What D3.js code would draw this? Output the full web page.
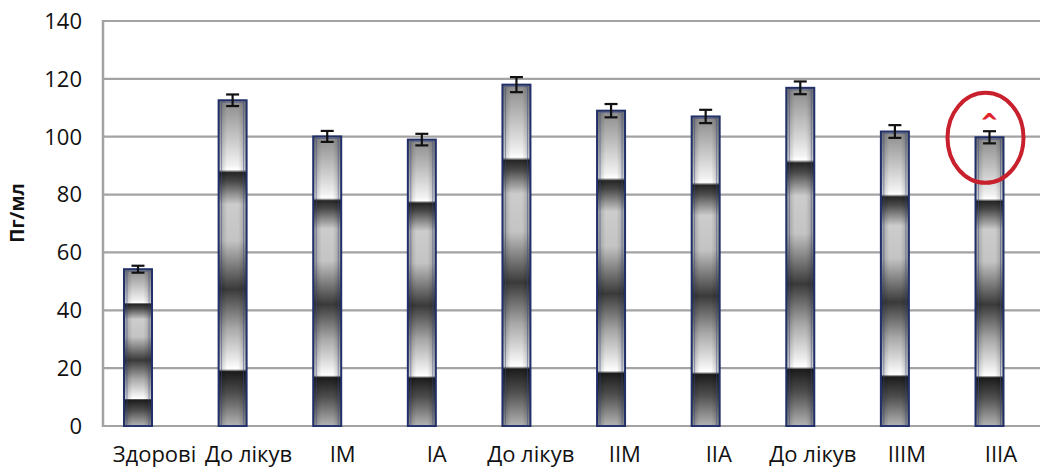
<!DOCTYPE html>
<html><head><meta charset="utf-8">
<script src="https://cdn.jsdelivr.net/npm/d3@7"></script>
<style>html,body{margin:0;padding:0;background:#fff}svg{display:block}</style>
</head><body>
<svg id="c" width="1040" height="470"></svg>
<script>
const categories = ["Здорові","До лікув","IM","IA","До лікув","IIM","IIA","До лікув","IIIM","IIIA"];
const values = [54.2, 112.6, 100.1, 99.0, 118.0, 109.0, 107.0, 116.9, 101.8, 99.8];
const errors = [1.2, 2.0, 1.9, 2.0, 2.6, 2.3, 2.3, 2.2, 2.2, 2.1];
const yTicks = [0, 20, 40, 60, 80, 100, 120, 140];
const yTitle = "Пг/мл";
const markIndex = 9;
const markText = "^";

const svg = d3.select("#c");
const keys = categories.map((c,i)=>i);
const y = d3.scaleLinear().domain([0,140]).range([426,21]);
const xBar = d3.scalePoint().domain(keys).range([138, 989.5]);
const xLab = d3.scalePoint().domain(keys).range([154.5, 1001]);
const barW = 28;
const font = "'Open Sans', sans-serif";

// gradients
const defs = svg.append("defs");
const g1 = defs.append("linearGradient").attr("id","metal").attr("x1",0).attr("y1",0).attr("x2",0).attr("y2",1);
[[0,"#8a8a8a"],[0.2,"#f2f2f2"],[0.213,"#ffffff"],[0.222,"#262626"],[0.25,"#4a4a4a"],[0.32,"#cccccc"],[0.43,"#c4c4c4"],
 [0.58,"#3a3a3a"],[0.7,"#a8a8a8"],[0.81,"#f4f4f4"],[0.825,"#ffffff"],[0.833,"#1c1c1c"],[0.9,"#4e4e4e"],[1,"#b4b4b4"]]
 .forEach(s=>g1.append("stop").attr("offset",s[0]).attr("stop-color",s[1]));
const g2 = defs.append("linearGradient").attr("id","shade").attr("x1",0).attr("y1",0).attr("x2",1).attr("y2",0);
[[0,0.25],[0.3,0],[0.7,0],[1,0.25]].forEach(s=>g2.append("stop").attr("offset",s[0]).attr("stop-color","#000").attr("stop-opacity",s[1]));

// gridlines
svg.append("g").selectAll("line").data(yTicks).join("line")
  .attr("x1",103).attr("x2",1040).attr("y1",d=>y(d)).attr("y2",d=>y(d))
  .attr("stroke","#a3a3a3").attr("stroke-width",2.2);
svg.append("line").attr("x1",103).attr("x2",103).attr("y1",y(140)-1).attr("y2",y(0)+1)
  .attr("stroke","#a3a3a3").attr("stroke-width",2.5);

// y labels
svg.append("g").selectAll("text").data(yTicks).join("text")
  .attr("x",82).attr("y",d=>y(d)).attr("dy","0.36em").attr("text-anchor","end")
  .attr("font-family",font).attr("font-size",22).attr("fill","#111").text(d=>d);

// y title
svg.append("text").attr("transform","translate(24,213) rotate(-90)")
  .attr("text-anchor","middle").attr("font-family",font).attr("font-weight","bold")
  .attr("font-size",19).attr("fill","#111").text(yTitle);

// bars
const bars = svg.append("g").selectAll("g").data(keys).join("g");
bars.append("rect").attr("x",i=>xBar(i)-barW/2).attr("y",i=>y(values[i])).attr("width",barW)
  .attr("height",i=>y(0)-y(values[i])).attr("fill","url(#metal)");
bars.append("rect").attr("x",i=>xBar(i)-barW/2).attr("y",i=>y(values[i])).attr("width",barW)
  .attr("height",i=>y(0)-y(values[i])).attr("fill","url(#shade)");
bars.append("rect").attr("x",i=>xBar(i)-barW/2).attr("y",i=>y(values[i])).attr("width",barW)
  .attr("height",i=>y(0)-y(values[i])).attr("fill","none").attr("stroke","#22306a").attr("stroke-width",2);
bars.append("rect").attr("x",i=>xBar(i)-barW/2+3).attr("y",i=>y(values[i])+2).attr("width",barW-6)
  .attr("height",i=>y(0)-y(values[i])-2).attr("fill","none").attr("stroke","#3b4a8c").attr("stroke-width",0.8).attr("stroke-opacity",0.6);

// error bars
const eb = svg.append("g").attr("stroke","#111").attr("stroke-width",2.2);
keys.forEach(i=>{
  const cx = xBar(i), t = y(values[i]+errors[i]), b = y(values[i]-errors[i]);
  eb.append("line").attr("x1",cx).attr("x2",cx).attr("y1",t).attr("y2",b);
  eb.append("line").attr("x1",cx-6.5).attr("x2",cx+6.5).attr("y1",t).attr("y2",t);
  eb.append("line").attr("x1",cx-6.5).attr("x2",cx+6.5).attr("y1",b).attr("y2",b);
});

// category labels
svg.append("g").selectAll("text").data(keys).join("text")
  .attr("x",i=>xLab(i)).attr("y",462).attr("text-anchor","middle")
  .attr("font-family",font).attr("font-size",22).attr("fill","#111").text(i=>categories[i]);

// annotation
const mx = xBar(markIndex);
svg.append("ellipse").attr("cx",mx-4).attr("cy",y(values[markIndex])+0.5).attr("rx",38).attr("ry",45)
  .attr("fill","none").attr("stroke","#c8202c").attr("stroke-width",4);
svg.append("text").attr("x",mx).attr("y",y(values[markIndex]+errors[markIndex])-3)
  .attr("text-anchor","middle").attr("font-family","'DejaVu Sans', sans-serif").attr("font-weight","bold")
  .attr("font-size",20).attr("fill","#e0202a").attr("stroke","#e0202a").attr("stroke-width",0.8).text(markText);
</script>
</body></html>
